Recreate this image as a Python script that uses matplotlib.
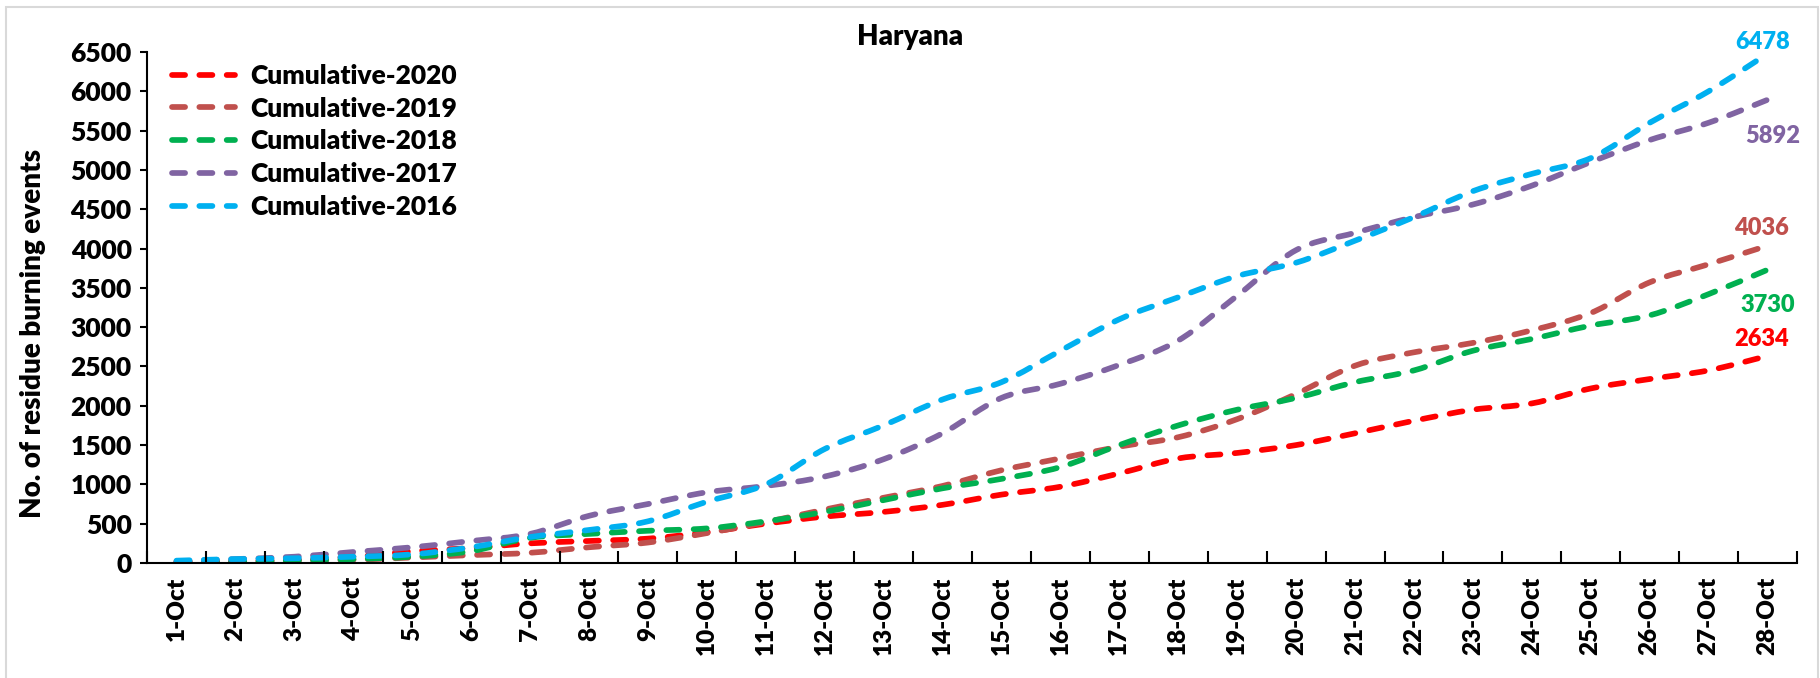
import matplotlib
matplotlib.use("Agg")
import matplotlib.pyplot as plt
from matplotlib.path import Path
from matplotlib.patches import PathPatch, Rectangle
from matplotlib.lines import Line2D
import numpy as np

plt.rcParams['font.family'] = ['Lato', 'DejaVu Sans']
FW = 'heavy'

days = [f"{d}-Oct" for d in range(1, 29)]

cum_2020 = [20, 30, 40, 80, 150, 190, 250, 280, 310, 390, 500, 590, 650, 740,
            870, 970, 1140, 1330, 1400, 1500, 1650, 1810, 1950, 2030, 2220,
            2340, 2450, 2634]
cum_2019 = [10, 15, 25, 40, 70, 100, 130, 200, 260, 380, 520, 680, 830, 980,
            1180, 1330, 1480, 1600, 1830, 2150, 2510, 2680, 2800, 2960, 3180,
            3570, 3800, 4036]
cum_2018 = [10, 20, 30, 50, 80, 150, 320, 370, 410, 440, 530, 650, 800, 950,
            1070, 1220, 1500, 1750, 1950, 2100, 2300, 2450, 2700, 2850, 3020,
            3150, 3420, 3730]
cum_2017 = [20, 50, 80, 140, 200, 280, 370, 600, 750, 900, 980, 1100, 1320,
            1650, 2100, 2280, 2520, 2830, 3400, 3980, 4200, 4400, 4560, 4800,
            5100, 5380, 5600, 5892]
cum_2016 = [30, 50, 60, 80, 110, 200, 330, 420, 530, 780, 1000, 1450, 1750,
            2080, 2300, 2700, 3100, 3380, 3650, 3820, 4100, 4400, 4730, 4950,
            5150, 5600, 6000, 6478]

series_names = ["Cumulative-2020", "Cumulative-2019", "Cumulative-2018",
                "Cumulative-2017", "Cumulative-2016"]
series_vals = [cum_2020, cum_2019, cum_2018, cum_2017, cum_2016]
colors = ["#FF0000", "#C0504D", "#00B050", "#8064A2", "#00B0F0"]
# label offsets (pixels) for the final-value annotations
label_offsets = [(-6, 17), (-6, 18), (0, -35), (5, -36), (-5, 12)]

W, H = 1820, 678
fig = plt.figure(figsize=(W / 100, H / 100), dpi=100)
ax = fig.add_axes([147 / W, 1 - 563 / H, (1797 - 147) / W, (563 - 52) / H])


def smooth_path(x, y):
    x = np.asarray(x, float)
    y = np.asarray(y, float)
    n = len(x)
    verts = [(x[0], y[0])]
    codes = [Path.MOVETO]
    for i in range(n - 1):
        p0 = (x[max(i - 1, 0)], y[max(i - 1, 0)])
        p1 = (x[i], y[i])
        p2 = (x[i + 1], y[i + 1])
        p3 = (x[min(i + 2, n - 1)], y[min(i + 2, n - 1)])
        c1 = (p1[0] + (p2[0] - p0[0]) / 6, p1[1] + (p2[1] - p0[1]) / 6)
        c2 = (p2[0] - (p3[0] - p1[0]) / 6, p2[1] - (p3[1] - p1[1]) / 6)
        verts += [c1, c2, p2]
        codes += [Path.CURVE4] * 3
    return Path(verts, codes)


xs = np.arange(len(days))
lw = 4.1
dash = (0, (2.3, 2.5))
handles = []
for name, vals, col, off in zip(series_names, series_vals, colors, label_offsets):
    patch = PathPatch(smooth_path(xs, vals), fill=False, edgecolor=col,
                      linewidth=lw, linestyle=dash, capstyle='round',
                      joinstyle='round')
    ax.add_patch(patch)
    handles.append(Line2D([], [], color=col, linewidth=lw, linestyle=dash,
                          dash_capstyle='round'))
    ax.annotate(f"{vals[-1]}", xy=(xs[-1], vals[-1]), xytext=off,
                textcoords='offset pixels', ha='center', va='center',
                color=col, fontsize=17, fontweight=FW)

ax.set_xlim(-0.5, len(days) - 0.5)
ax.set_ylim(0, 6500)
ax.set_yticks(np.arange(0, 6501, 500))
ax.set_xticks(xs)
ax.set_xticklabels(days, rotation=90, fontweight=FW)
ax.set_yticklabels([str(v) for v in range(0, 6501, 500)], fontweight=FW)
ax.set_xticks(np.arange(-0.5, len(days), 1.0), minor=True)
ax.tick_params(axis='x', which='major', length=0, pad=10, labelsize=17.5)
ax.tick_params(axis='x', which='minor', direction='in', length=9, width=1.5)
ax.tick_params(axis='y', which='major', direction='out', length=5, width=1.5,
               pad=6, labelsize=19)
for s in ['top', 'right']:
    ax.spines[s].set_visible(False)
for s in ['left', 'bottom']:
    ax.spines[s].set_linewidth(1.5)

fig.text(0.5, 1 - 37 / H, "Haryana", ha='center',
         va='center', fontsize=20, fontweight=FW)
fig.text(33 / W, 1 - 333 / H, "No. of residue burning events", rotation=90,
         ha='center', va='center', fontsize=20, fontweight=FW)

leg = ax.legend(handles, series_names, loc='upper left',
                bbox_to_anchor=(172 / W, 1 - 64 / H),
                bbox_transform=fig.transFigure, frameon=False, borderpad=0,
                borderaxespad=0, handlelength=2.4, handletextpad=0.55,
                labelspacing=0.33, prop={'size': 19, 'weight': FW})

fig.patches.append(Rectangle((6 / W, -0.05), (1818 - 6) / W, 1.05 - 7 / H,
                             transform=fig.transFigure, fill=False,
                             edgecolor='#D9D9D9', linewidth=1.5))

fig.savefig("out.png", dpi=100)
